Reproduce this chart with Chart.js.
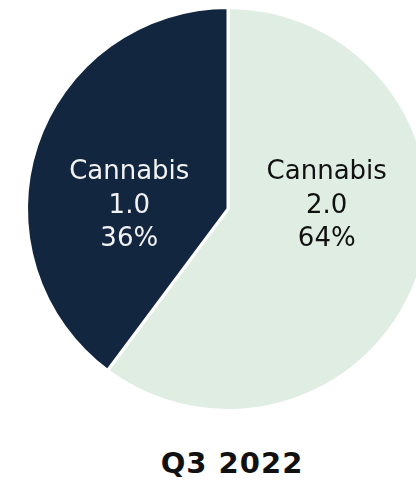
<!DOCTYPE html>
<html>
<head>
<meta charset="utf-8">
<script src="https://cdn.jsdelivr.net/npm/chart.js@4.4.1/dist/chart.umd.min.js"></script>
<style>
    html, body { margin: 0; padding: 0; background: #fff; overflow: hidden; width: 416px; height: 484px; }
    #wrap { position: absolute; left: 0; top: 0; width: 456px; height: 418px; }
    #title {
        position: absolute; left: 2px; top: 445px; width: 460px; text-align: center;
        font: bold 29px "DejaVu Sans", sans-serif; letter-spacing: 1px; color: #111; line-height: 36px;
    }
</style>
</head>
<body>
<div id="wrap"><canvas id="pie"></canvas></div>
<div id="title">Q3 2022</div>
<script>
// slices, clockwise from 12 o'clock
const categories = ['Cannabis 2.0', 'Cannabis 1.0'];
// shares as drawn in the picture (the printed labels say 64 / 36)
const shares = [60.2, 39.8];
const shareLabels = ['64%', '36%'];

const sliceColors = ['#DFEDE3', '#12263F'];
const textColors = ['#111111', '#F2F2F2'];

// labels sit left/right of centre, same height, not at the centroid
const sliceLabels = {
    id: 'sliceLabels',
    afterDatasetsDraw(chart) {
        const { ctx } = chart;
        const meta = chart.getDatasetMeta(0);
        ctx.save();
        ctx.font = '26px "DejaVu Sans", sans-serif';
        ctx.textAlign = 'center';
        ctx.textBaseline = 'alphabetic';
        meta.data.forEach((arc, i) => {
            const side = arc.tooltipPosition().x < arc.x ? -1 : 1;
            const x = arc.x + side * arc.outerRadius * 0.49;
            const lines = categories[i].split(' ').concat(shareLabels[i]);
            const lh = 33.5;
            const base = arc.y + 3.5 - lh;
            ctx.fillStyle = textColors[i];
            lines.forEach((t, k) => ctx.fillText(t, x, base + k * lh));
        });
        ctx.restore();
    }
};

new Chart(document.getElementById('pie'), {
    type: 'pie',
    data: {
        labels: categories,
        datasets: [{
            data: shares,
            backgroundColor: sliceColors,
            borderColor: '#ffffff',
            borderWidth: 3
        }]
    },
    options: {
        responsive: true,
        maintainAspectRatio: false,
        animation: false,
        layout: { padding: 6 },
        plugins: {
            legend: { display: false },
            tooltip: { enabled: false }
        }
    },
    plugins: [sliceLabels]
});
</script>
</body>
</html>
